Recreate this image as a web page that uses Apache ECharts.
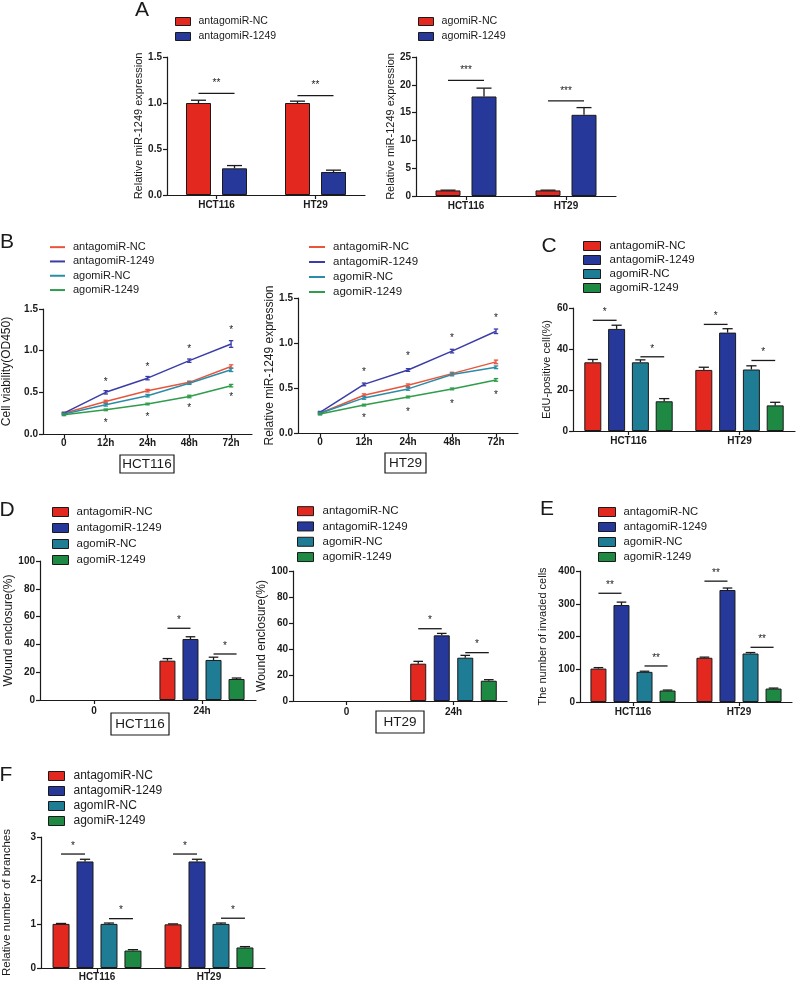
<!DOCTYPE html>
<html><head><meta charset="utf-8">
<script src="https://cdn.jsdelivr.net/npm/echarts@6/dist/echarts.min.js"></script>
<style>html,body{margin:0;padding:0;background:#fff}#c{width:800px;height:983px}</style>
</head><body><div id="c"></div>
<script>
// ---------------- DATA ----------------
const cellLines = ['HCT116', 'HT29'];
const groups = ['antagomiR-NC', 'antagomiR-1249', 'agomiR-NC', 'agomiR-1249'];
const groupsF = ['antagomiR-NC', 'antagomiR-1249', 'agomIR-NC', 'agomiR-1249'];
const timePoints = ['0', '12h', '24h', '48h', '72h'];
const woundTimes = ['0', '24h'];

// Panel A (left: antagomiR, right: agomiR)
const aAntagoNC = [1.00, 1.00];      const aAntagoNCErr = [0.03, 0.02];
const aAntago1249 = [0.29, 0.25];    const aAntago1249Err = [0.03, 0.02];
const aAgoNC = [1.0, 1.0];           const aAgoNCErr = [0.05, 0.05];
const aAgo1249 = [17.9, 14.6];       const aAgo1249Err = [1.5, 1.3];
// significance: [category, barFrom, barTo, value, stars]
const aLeftSig = [[0, 0, 1, 1.105, 2], [1, 0, 1, 1.08, 2]];
const aRightSig = [[0, 0, 1, 20.8, 3], [1, 0, 1, 17.1, 3]];

// Panel B (left: HCT116, right: HT29)
const bL_NC = [0.25, 0.39, 0.52, 0.62, 0.81];      const bL_NCErr = [0.01, 0.015, 0.015, 0.015, 0.02];
const bL_1249 = [0.25, 0.50, 0.67, 0.88, 1.08];    const bL_1249Err = [0.01, 0.02, 0.02, 0.02, 0.04];
const bL_AgoNC = [0.24, 0.35, 0.46, 0.61, 0.77];   const bL_AgoNCErr = [0.01, 0.015, 0.015, 0.015, 0.02];
const bL_Ago1249 = [0.23, 0.29, 0.36, 0.45, 0.58]; const bL_Ago1249Err = [0.01, 0.01, 0.01, 0.015, 0.015];
const bL_StarUp = [null, 0.65, 0.83, 1.04, 1.27];
const bL_StarDown = [null, 0.15, 0.22, 0.33, 0.46];
const bR_NC = [0.22, 0.42, 0.53, 0.66, 0.79];      const bR_NCErr = [0.01, 0.015, 0.015, 0.015, 0.02];
const bR_1249 = [0.23, 0.54, 0.70, 0.91, 1.13];    const bR_1249Err = [0.01, 0.015, 0.015, 0.02, 0.025];
const bR_AgoNC = [0.22, 0.39, 0.49, 0.65, 0.73];   const bR_AgoNCErr = [0.01, 0.015, 0.015, 0.015, 0.015];
const bR_Ago1249 = [0.21, 0.31, 0.40, 0.49, 0.59]; const bR_Ago1249Err = [0.01, 0.01, 0.01, 0.01, 0.015];
const bR_StarUp = [null, 0.70, 0.87, 1.07, 1.30];
const bR_StarDown = [null, 0.19, 0.25, 0.34, 0.44];

// Panel C (EdU)
const cNC = [33.5, 29.8];     const cNCErr = [1.4, 1.3];
const c1249 = [49.8, 48.0];   const c1249Err = [1.8, 1.9];
const cAgoNC = [33.5, 30.0];  const cAgoNCErr = [1.2, 1.8];
const cAgo1249 = [14.5, 12.5];const cAgo1249Err = [1.3, 1.5];
const cSig = [[0, 0, 1, 54.0, 1], [0, 2, 3, 36.2, 1], [1, 0, 1, 52.0, 1], [1, 2, 3, 34.4, 1]];

// Panel D (wound closure; left HCT116, right HT29)
const dL_NC = [0, 28.3];      const dL_NCErr = [0, 1.5];
const dL_1249 = [0, 43.9];    const dL_1249Err = [0, 1.6];
const dL_AgoNC = [0, 28.8];   const dL_AgoNCErr = [0, 2.0];
const dL_Ago1249 = [0, 15.1]; const dL_Ago1249Err = [0, 0.7];
const dL_Sig = [[1, 0, 1, 51.6, 1], [1, 2, 3, 33.1, 1]];
const dR_NC = [0, 28.7];      const dR_NCErr = [0, 1.8];
const dR_1249 = [0, 50.5];    const dR_1249Err = [0, 1.5];
const dR_AgoNC = [0, 33.3];   const dR_AgoNCErr = [0, 1.8];
const dR_Ago1249 = [0, 15.6]; const dR_Ago1249Err = [0, 0.8];
const dR_Sig = [[1, 0, 1, 55.6, 1], [1, 2, 3, 37.2, 1]];

// Panel E (invasion)
const eNC = [102, 135];       const eNCErr = [3, 2];
const e1249 = [296, 342];     const e1249Err = [9, 6];
const eAgoNC = [92, 148];     const eAgoNCErr = [2, 3];
const eAgo1249 = [35, 41];    const eAgo1249Err = [1.5, 1.5];
const eSig = [[0, 0, 1, 332, 2], [0, 2, 3, 110, 2], [1, 0, 1, 369, 2], [1, 2, 3, 167, 2]];

// Panel F (branches)
const fNC = [1.01, 1.00];     const fNCErr = [0.01, 0.01];
const f1249 = [2.44, 2.44];   const f1249Err = [0.05, 0.05];
const fAgoNC = [1.01, 1.01];  const fAgoNCErr = [0.02, 0.02];
const fAgo1249 = [0.40, 0.47];const fAgo1249Err = [0.02, 0.02];
const fSig = [[0, 0, 1, 2.61, 1], [0, 2, 3, 1.13, 1], [1, 0, 1, 2.61, 1], [1, 2, 3, 1.14, 1]];

// ---------------- STYLE ----------------
const FONT = '"Liberation Sans", Arial, Helvetica, sans-serif';
const INK = '#1a1a1a';
const BAR_COL = ['#E2281F', '#26399A', '#1E7D95', '#1D8943'];
const LINE_COL = ['#E8553D', '#3A3CA8', '#2A8DA8', '#2F9D4B'];

const option = { animation: false, backgroundColor: '#fff', grid: [], xAxis: [], yAxis: [], series: [], legend: [], graphic: [] };

function addPanel(cfg) {
  const i = option.grid.length;
  option.grid.push({ left: cfg.left, top: cfg.top, width: cfg.width, height: cfg.height, containLabel: false });
  option.xAxis.push({
    type: 'category', gridIndex: i, data: cfg.cats, boundaryGap: true,
    axisLine: { show: true, lineStyle: { color: INK, width: 1.2 } },
    axisTick: { show: true, alignWithLabel: true, length: 4, lineStyle: { color: INK, width: 1.2 } },
    axisLabel: { fontSize: 10, fontWeight: 'bold', fontFamily: FONT, color: INK, margin: cfg.xMargin || 5, interval: 0 },
    splitLine: { show: false }
  });
  option.yAxis.push({
    type: 'value', gridIndex: i, min: 0, max: cfg.max, interval: cfg.interval,
    name: cfg.yName, nameLocation: 'middle', nameRotate: 90, nameGap: cfg.nameGap,
    nameTextStyle: { fontSize: cfg.nameSize || 11.5, fontFamily: FONT, color: INK },
    axisLine: { show: true, lineStyle: { color: INK, width: 1.2 } },
    axisTick: { show: true, length: 4, lineStyle: { color: INK, width: 1.2 } },
    axisLabel: { fontSize: 10, fontWeight: 'bold', fontFamily: FONT, color: INK, margin: 5, formatter: cfg.fmt },
    splitLine: { show: false }
  });
  return i;
}

function addBars(i, names, values, errs, colors, w, gapPct, sigs, starOff) {
  const n = values.length;
  values.forEach((vals, b) => {
    option.series.push({
      type: 'bar', name: names[b], xAxisIndex: i, yAxisIndex: i,
      data: vals.map(v => v === 0 ? { value: v, itemStyle: { borderWidth: 0, opacity: 0 } } : v),
      barWidth: w, barGap: gapPct + '%', z: 2,
      itemStyle: { color: colors[b], borderColor: INK, borderWidth: 1 }
    });
  });
  const step = w * (1 + gapPct / 100);
  const errData = [];
  values.forEach((vals, b) => vals.forEach((v, c) => { if (v > 0 && errs[b][c] > 0) errData.push([c, v, errs[b][c], b]); }));
  option.series.push({
    type: 'custom', xAxisIndex: i, yAxisIndex: i, data: errData, encode: { x: 0, y: 1 }, silent: true, z: 4,
    renderItem: function (params, api) {
      const c = api.value(0), v = api.value(1), e = api.value(2), b = api.value(3);
      const base = api.coord([c, v]), top = api.coord([c, v + e]);
      const x = base[0] + (b - (n - 1) / 2) * step;
      const hw = w * 0.3;
      return { type: 'group', children: [
        { type: 'line', shape: { x1: x, y1: base[1], x2: x, y2: top[1] }, style: { stroke: INK, lineWidth: 1.3 } },
        { type: 'line', shape: { x1: x - hw, y1: top[1], x2: x + hw, y2: top[1] }, style: { stroke: INK, lineWidth: 1.3 } }
      ] };
    }
  });
  option.series.push({
    type: 'custom', xAxisIndex: i, yAxisIndex: i, data: sigs, encode: { x: 0, y: 3 }, silent: true, z: 4,
    renderItem: function (params, api) {
      const c = api.value(0), b1 = api.value(1), b2 = api.value(2), v = api.value(3), k = api.value(4);
      const p = api.coord([c, v]);
      const x1 = p[0] + (b1 - (n - 1) / 2) * step, x2 = p[0] + (b2 - (n - 1) / 2) * step;
      const txt = '*'.repeat(k);
      return { type: 'group', children: [
        { type: 'line', shape: { x1: x1, y1: p[1], x2: x2, y2: p[1] }, style: { stroke: INK, lineWidth: 1.3 } },
        { type: 'text', x: (x1 + x2) / 2, y: p[1] - starOff,
          style: { text: txt, fontSize: 10, fontFamily: FONT, fill: INK, align: 'center', verticalAlign: 'middle', textAlign: 'center', textVerticalAlign: 'middle' } }
      ] };
    }
  });
}

function addLines(i, names, values, errs, colors, starsUp, starsDown) {
  values.forEach((vals, s) => {
    option.series.push({
      type: 'line', name: names[s], xAxisIndex: i, yAxisIndex: i, data: vals, symbol: 'none', z: 3,
      lineStyle: { color: colors[s], width: 1.5 }, itemStyle: { color: colors[s] }
    });
  });
  const errData = [];
  values.forEach((vals, s) => vals.forEach((v, t) => errData.push([t, v, errs[s][t], s])));
  option.series.push({
    type: 'custom', xAxisIndex: i, yAxisIndex: i, data: errData, encode: { x: 0, y: 1 }, silent: true, z: 4,
    renderItem: function (params, api) {
      const t = api.value(0), v = api.value(1), e = api.value(2), s = api.value(3);
      const lo = api.coord([t, v - e]), hi = api.coord([t, v + e]);
      const x = lo[0], hw = 2.2, col = colors[s];
      return { type: 'group', children: [
        { type: 'line', shape: { x1: x, y1: lo[1], x2: x, y2: hi[1] }, style: { stroke: col, lineWidth: 1.3 } },
        { type: 'line', shape: { x1: x - hw, y1: lo[1], x2: x + hw, y2: lo[1] }, style: { stroke: col, lineWidth: 1.3 } },
        { type: 'line', shape: { x1: x - hw, y1: hi[1], x2: x + hw, y2: hi[1] }, style: { stroke: col, lineWidth: 1.3 } }
      ] };
    }
  });
  const starData = [];
  starsUp.forEach((v, t) => { if (v != null) starData.push([t, v]); });
  starsDown.forEach((v, t) => { if (v != null) starData.push([t, v]); });
  option.series.push({
    type: 'custom', xAxisIndex: i, yAxisIndex: i, data: starData, encode: { x: 0, y: 1 }, silent: true, z: 4,
    renderItem: function (params, api) {
      const p = api.coord([api.value(0), api.value(1)]);
      return { type: 'text', x: p[0], y: p[1] + 2,
        style: { text: '*', fontSize: 10, fontFamily: FONT, fill: INK, align: 'center', verticalAlign: 'middle', textAlign: 'center', textVerticalAlign: 'middle' } };
    }
  });
}

function addLegend(cfg) {
  option.legend.push({
    orient: 'vertical', left: cfg.left, top: cfg.top, padding: 0, itemGap: 0,
    itemWidth: cfg.iw, itemHeight: cfg.ih, selectedMode: false,
    textStyle: { fontSize: cfg.fs, lineHeight: cfg.lh, fontFamily: FONT, color: INK, padding: [0, 0, 0, cfg.tp] },
    data: cfg.names.map((nm, k) => ({
      name: nm, icon: 'rect',
      itemStyle: cfg.line ? { color: cfg.colors[k], borderWidth: 0 } : { color: cfg.colors[k], borderColor: INK, borderWidth: 1 }
    }))
  });
}

const fmt1 = v => v.toFixed(1);
const fmt0 = v => String(v);

// ---- Panel A ----
const iAL = addPanel({ left: 167, top: 57, width: 198, height: 138, cats: cellLines, max: 1.5, interval: 0.5, fmt: fmt1,
  yName: 'Relative miR-1249 expression', nameGap: 21, nameSize: 11 });
addBars(iAL, groups.slice(0, 2), [aAntagoNC, aAntago1249], [aAntagoNCErr, aAntago1249Err], BAR_COL.slice(0, 2), 25, 44, aLeftSig, 10);
const iAR = addPanel({ left: 416, top: 57, width: 200, height: 139, cats: cellLines, max: 25, interval: 5, fmt: fmt0,
  yName: 'Relative miR-1249 expression', nameGap: 18, nameSize: 11 });
addBars(iAR, groups.slice(2, 4), [aAgoNC, aAgo1249], [aAgoNCErr, aAgo1249Err], BAR_COL.slice(0, 2), 25, 44, aRightSig, 10);
addLegend({ left: 175, top: 14, iw: 15, ih: 8, fs: 10.5, lh: 15, tp: 3, names: groups.slice(0, 2), colors: BAR_COL.slice(0, 2) });
addLegend({ left: 418, top: 14, iw: 15, ih: 8, fs: 10.7, lh: 15, tp: 3, names: groups.slice(2, 4), colors: BAR_COL.slice(0, 2) });

// ---- Panel B ----
const iBL = addPanel({ left: 43, top: 309, width: 209, height: 125, cats: timePoints, max: 1.5, interval: 0.5, fmt: fmt1,
  yName: 'Cell viability(OD450)', nameGap: 30, nameSize: 12, xMargin: 4 });
addLines(iBL, groups, [bL_NC, bL_1249, bL_AgoNC, bL_Ago1249], [bL_NCErr, bL_1249Err, bL_AgoNCErr, bL_Ago1249Err], LINE_COL, bL_StarUp, bL_StarDown);
const iBR = addPanel({ left: 298, top: 298, width: 220, height: 135, cats: timePoints, max: 1.5, interval: 0.5, fmt: fmt1,
  yName: 'Relative miR-1249 expression', nameGap: 20, nameSize: 12, xMargin: 4 });
addLines(iBR, groups, [bR_NC, bR_1249, bR_AgoNC, bR_Ago1249], [bR_NCErr, bR_1249Err, bR_AgoNCErr, bR_Ago1249Err], LINE_COL, bR_StarUp, bR_StarDown);
addLegend({ left: 50, top: 240, iw: 15, ih: 2, fs: 11, lh: 14.3, tp: 3, names: groups, colors: LINE_COL, line: true });
addLegend({ left: 309, top: 239.5, iw: 16, ih: 2, fs: 11.5, lh: 15, tp: 3, names: groups, colors: LINE_COL, line: true });

// ---- Panel C ----
const iC = addPanel({ left: 573, top: 308, width: 222, height: 123, cats: cellLines, max: 60, interval: 20, fmt: fmt0,
  yName: 'EdU-positive cell(%)', nameGap: 21, nameSize: 11 });
addBars(iC, groups, [cNC, c1249, cAgoNC, cAgo1249], [cNCErr, c1249Err, cAgoNCErr, cAgo1249Err], BAR_COL, 17, 40, cSig, 8);
addLegend({ left: 583, top: 239, iw: 17, ih: 9, fs: 11.5, lh: 14, tp: 4, names: groups, colors: BAR_COL });

// ---- Panel D ----
const iDL = addPanel({ left: 40, top: 561, width: 216, height: 139, cats: woundTimes, max: 100, interval: 20, fmt: fmt0,
  yName: 'Wound enclosure(%)', nameGap: 25, nameSize: 12, xMargin: 6 });
addBars(iDL, groups, [dL_NC, dL_1249, dL_AgoNC, dL_Ago1249], [dL_NCErr, dL_1249Err, dL_AgoNCErr, dL_Ago1249Err], BAR_COL, 16, 44, dL_Sig, 8);
const iDR = addPanel({ left: 293, top: 571, width: 214, height: 130, cats: woundTimes, max: 100, interval: 20, fmt: fmt0,
  yName: 'Wound enclosure(%)', nameGap: 24, nameSize: 12, xMargin: 6 });
addBars(iDR, groups, [dR_NC, dR_1249, dR_AgoNC, dR_Ago1249], [dR_NCErr, dR_1249Err, dR_AgoNCErr, dR_Ago1249Err], BAR_COL, 16, 47, dR_Sig, 8);
addLegend({ left: 52, top: 504, iw: 16, ih: 9, fs: 11.5, lh: 16, tp: 3, names: groups, colors: BAR_COL });
addLegend({ left: 297, top: 503.5, iw: 16, ih: 9, fs: 11.5, lh: 15.3, tp: 4, names: groups, colors: BAR_COL });

// ---- Panel E ----
const iE = addPanel({ left: 580, top: 571, width: 212, height: 131, cats: cellLines, max: 400, interval: 100, fmt: fmt0,
  yName: 'The number of invaded cells', nameGap: 32, nameSize: 11 });
addBars(iE, groups, [eNC, e1249, eAgoNC, eAgo1249], [eNCErr, e1249Err, eAgoNCErr, eAgo1249Err], BAR_COL, 16, 44, eSig, 8);
addLegend({ left: 598, top: 504.5, iw: 17, ih: 9, fs: 11.3, lh: 15, tp: 3, names: groups, colors: BAR_COL });

// ---- Panel F ----
const iF = addPanel({ left: 39, top: 837, width: 226, height: 131, cats: cellLines, max: 3, interval: 1, fmt: fmt0,
  yName: 'Relative number of branches', nameGap: 28, nameSize: 11.5, xMargin: 4 });
addBars(iF, groupsF, [fNC, f1249, fAgoNC, fAgo1249], [fNCErr, f1249Err, fAgoNCErr, fAgo1249Err], BAR_COL, 17, 41, fSig, 8);
addLegend({ left: 48, top: 768.5, iw: 16, ih: 9, fs: 12, lh: 15, tp: 4, names: groupsF, colors: BAR_COL });

// ---- Panel letters and cell-line boxes ----
function letter(t, x, y) {
  option.graphic.push({ type: 'text', x: x, y: y, z: 10,
    style: { text: t, fontSize: 21, fontFamily: FONT, fill: INK, align: 'center', verticalAlign: 'middle', textAlign: 'center', textVerticalAlign: 'middle' } });
}
function boxLabel(t, x, y, w, h) {
  option.graphic.push({ type: 'rect', z: 10, shape: { x: x, y: y, width: w, height: h }, style: { fill: '#fff', stroke: INK, lineWidth: 1.2 } });
  option.graphic.push({ type: 'text', z: 11, x: x + w / 2, y: y + h / 2 + 0.5,
    style: { text: t, fontSize: 13.5, fontFamily: FONT, fill: INK, align: 'center', verticalAlign: 'middle', textAlign: 'center', textVerticalAlign: 'middle' } });
}
letter('A', 142, 10); letter('B', 7, 242); letter('C', 549, 246);
letter('D', 7, 510); letter('E', 547, 509); letter('F', 6, 775);
boxLabel('HCT116', 120, 455, 54, 18);
boxLabel('HT29', 385, 453, 41, 20);
boxLabel('HCT116', 111, 713, 58, 22);
boxLabel('HT29', 376, 711, 48, 22);

const chart = echarts.init(document.getElementById('c'), null, { renderer: 'canvas' });
chart.setOption(option);
</script>
</body></html>
